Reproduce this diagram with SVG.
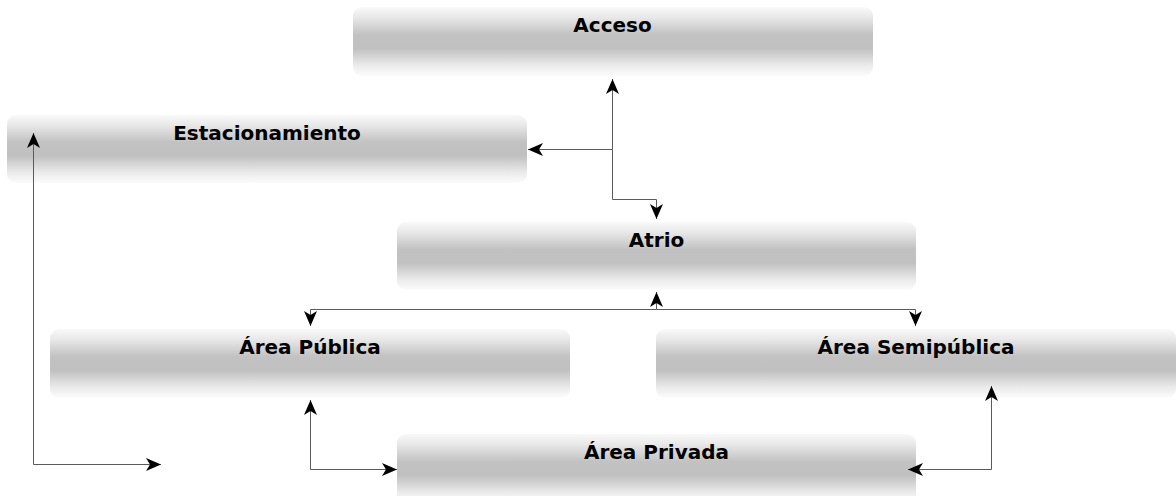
<svg xmlns="http://www.w3.org/2000/svg" width="1176" height="496" viewBox="0 0 1176 496">
<style>
.box{fill:url(#g)}
.lbl{font-family:"DejaVu Sans",sans-serif;font-weight:bold;font-size:20px;fill:#000;text-anchor:middle}
.c{fill:none;stroke:#5a5a5a;stroke-width:1}
</style>
<defs>
<linearGradient id="g" x1="0" y1="0" x2="0" y2="1">
<stop offset="0" stop-color="#f9f9f9"/>
<stop offset="0.15" stop-color="#e8e8e8"/>
<stop offset="0.4" stop-color="#c2c2c2"/>
<stop offset="0.6" stop-color="#c0c0c0"/>
<stop offset="0.85" stop-color="#ebebeb"/>
<stop offset="1" stop-color="#fcfcfc"/>
</linearGradient>
<marker id="a" viewBox="-16 -8 17 16" refX="0" refY="0" markerWidth="17" markerHeight="16" markerUnits="userSpaceOnUse" orient="auto-start-reverse">
<path d="M0,0 L-15,-6.5 L-11,0 L-15,6.5 Z" fill="#000"/>
</marker>
</defs>
<g id="acceso"><rect class="box" x="353" y="7" width="520" height="69" rx="9"/><text class="lbl" x="612.5" y="32">Acceso</text></g>
<g id="estacionamiento"><rect class="box" x="7" y="115" width="520" height="68" rx="9"/><text class="lbl" x="267" y="140">Estacionamiento</text></g>
<g id="atrio"><rect class="box" x="397" y="222" width="519" height="68" rx="9"/><text class="lbl" x="656.5" y="247">Atrio</text></g>
<g id="area-publica"><rect class="box" x="50" y="329" width="520" height="69" rx="9"/><text class="lbl" x="310" y="354">Área Pública</text></g>
<g id="area-semipublica"><rect class="box" x="656" y="329" width="520" height="69" rx="9"/><text class="lbl" x="916" y="354">Área Semipública</text></g>
<g id="area-privada"><rect class="box" x="397" y="434" width="519" height="69" rx="9"/><text class="lbl" x="656.5" y="459">Área Privada</text></g>
<g id="connectors">
<path class="c" d="M612.5,149.5 V79" marker-end="url(#a)"/>
<path class="c" d="M612.5,149.5 H528" marker-end="url(#a)"/>
<path class="c" d="M612.5,149.5 V199.5 H656.5 V219" marker-end="url(#a)"/>
<path class="c" d="M656.5,309.5 V292" marker-end="url(#a)"/>
<path class="c" d="M656.5,309.5 H310.5 V326" marker-end="url(#a)"/>
<path class="c" d="M656.5,309.5 H915.5 V326" marker-end="url(#a)"/>
<path class="c" d="M33.5,133 V464.5 H161" marker-start="url(#a)" marker-end="url(#a)"/>
<path class="c" d="M310.5,400 V469.5 H397" marker-start="url(#a)" marker-end="url(#a)"/>
<path class="c" d="M991.5,386 V469.5 H908" marker-start="url(#a)" marker-end="url(#a)"/>
</g>
</svg>
